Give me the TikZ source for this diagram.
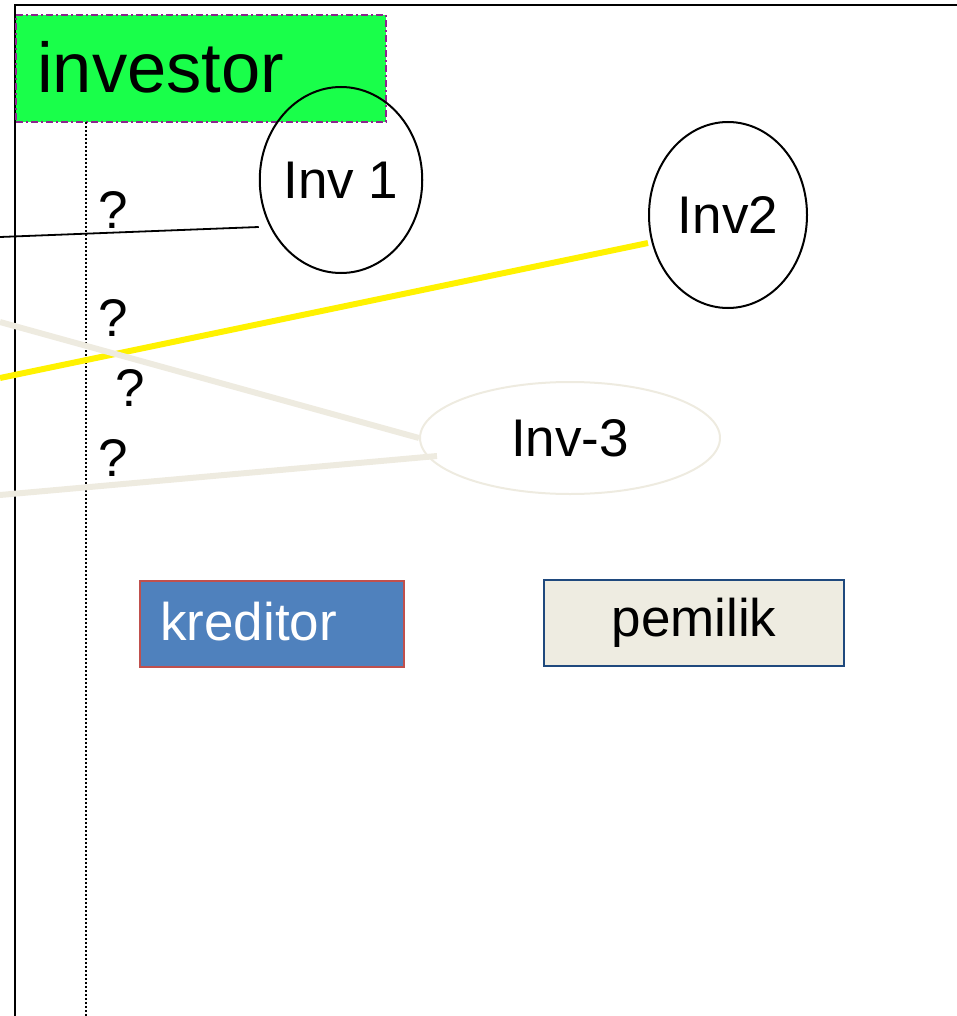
\documentclass[tikz,border=0pt]{standalone}
\usepackage{fontspec}
\setmainfont{Liberation Sans}
\usetikzlibrary{shapes.geometric}
\definecolor{boxgreen}{HTML}{19FF4A}
\definecolor{dashpurple}{HTML}{8E238E}
\definecolor{linebeige}{HTML}{EEEBE0}
\definecolor{credblue}{HTML}{4F81BD}
\definecolor{credred}{HTML}{C0504D}
\definecolor{ownfill}{HTML}{EEECE1}
\definecolor{ownline}{HTML}{1F497D}
\begin{document}
\begin{tikzpicture}[x=1pt,y=-1pt,
  big/.style={font=\fontsize{70.5}{80}\selectfont},
  mid/.style={font=\fontsize{53}{60}\selectfont},
  invnode/.style={ellipse,draw=black,line width=2pt,inner sep=0pt,mid},
  qmark/.style={mid,inner sep=0pt},
  rolebox/.style={rectangle,line width=2pt,inner sep=0pt,mid}]
\useasboundingbox (0,0) rectangle (957,1016);

% frame lines
\draw[line width=2.5pt] (15,1016) -- (15,5) -- (957,5);

% investor heading box
\node[rectangle,fill=boxgreen,draw=dashpurple,line width=2pt,
      dash pattern=on 7pt off 3pt on 2pt off 3pt,
      minimum width=370pt,minimum height=107pt,anchor=north west,
      inner sep=0pt] (inv) at (15,14) {};
\node[big,anchor=base west,inner sep=0pt] (invtext) at (37,93) {investor};

% dotted guide
\coordinate (gtop) at (86,122);
\coordinate (gbot) at (86,1016);
\draw[line width=1.6pt,dash pattern=on 1.6pt off 2.4pt] (gtop) -- (gbot);

% investor ellipses
\node[invnode,minimum width=158pt,minimum height=186pt] (inv1) at (341,180) {Inv 1};
\node[invnode,minimum width=158pt,minimum height=186pt] (inv2) at (728,215) {Inv2};
\node[invnode,draw=linebeige,minimum width=300pt,minimum height=112pt] (inv3) at (570,438) {Inv-3};

% connectors from the left edge
\coordinate (l1) at (0,237);
\coordinate (l2) at (0,378);
\coordinate (l3) at (0,322);
\coordinate (l4) at (0,495);
\draw[line width=1.8pt] (l1) -- ([yshift=-47pt]inv1.west);
\draw[yellow,line width=6pt] (l2) -- ([yshift=-28pt]inv2.west);
\draw[linebeige,line width=6pt] (l3) -- (inv3.west);
\draw[linebeige,line width=6pt] (l4) -- ([xshift=18pt,yshift=-18pt]inv3.west);

% question marks
\node[qmark] (q1) at (113,210) {?};
\node[qmark] (q2) at (113,318) {?};
\node[qmark] (q3) at (130,388) {?};
\node[qmark] (q4) at (113,458) {?};

% role boxes
\node[rolebox,fill=credblue,draw=credred,minimum width=264pt,minimum height=86pt,
      anchor=north west] (kred) at (139,580) {};
\node[mid,text=white,anchor=base west,inner sep=0pt] (kredtext) at (160,640) {kreditor};
\node[rolebox,fill=ownfill,draw=ownline,minimum width=300pt,minimum height=86pt,
      anchor=north west] (pem) at (543,579) {pemilik};
\end{tikzpicture}
\end{document}
